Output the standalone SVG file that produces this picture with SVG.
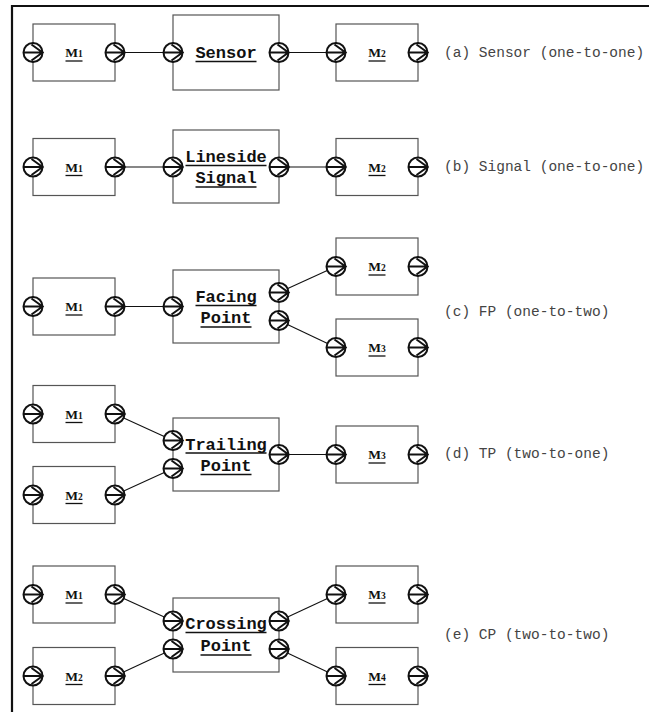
<svg xmlns="http://www.w3.org/2000/svg" xmlns:xlink="http://www.w3.org/1999/xlink" width="649" height="712" viewBox="0 0 649 712">
  <style>
    .box { fill: #fff; stroke: #555; stroke-width: 1.2; }
    .frame { fill: none; stroke: #111; stroke-width: 2.2; }
    .wire { fill: none; stroke: #111; stroke-width: 1.1; }
    .ul { stroke: #111; stroke-width: 1.6; }
    .ulm { stroke: #111; stroke-width: 1.3; }
    .mlab { font-family: "Liberation Serif", "Times New Roman", serif; font-weight: bold; font-size: 13.5px; fill: #111; text-anchor: middle; }
    .mlab .sub { font-size: 9.5px; }
    .blab { font-family: "Liberation Mono", "Courier New", monospace; font-weight: bold; font-size: 17px; fill: #111; text-anchor: middle; }
    .cap { font-family: "Liberation Mono", "Courier New", monospace; font-size: 14.5px; fill: #444; }
  </style>
  <defs>
    <!-- directional port: white disc with an arrow pointing right -->
    <g id="port">
      <circle r="9.5" fill="#fff" stroke="#111" stroke-width="2"/>
      <path d="M-9.5 0H9.5M-1.5 -8L9.5 0L-1.5 8" fill="none" stroke="#111" stroke-width="2" stroke-linejoin="miter"/>
    </g>
  </defs>

  <!-- page frame -->
  <path class="frame" d="M12 712V6H649"/>

  <!-- connectors between ports -->
  <g id="connectors">
    <line class="wire" x1="115" y1="52.5" x2="173" y2="52.5"/>
    <line class="wire" x1="279" y1="52.5" x2="336" y2="52.5"/>

    <line class="wire" x1="115" y1="167" x2="173" y2="167"/>
    <line class="wire" x1="279" y1="167" x2="336" y2="167"/>

    <line class="wire" x1="115" y1="306.5" x2="173" y2="306.5"/>
    <line class="wire" x1="279" y1="292.5" x2="336" y2="266.5"/>
    <line class="wire" x1="279" y1="320.5" x2="336" y2="347.5"/>

    <line class="wire" x1="115" y1="414" x2="173" y2="440.5"/>
    <line class="wire" x1="115" y1="495" x2="173" y2="468.5"/>
    <line class="wire" x1="279" y1="454.5" x2="336" y2="454.5"/>

    <line class="wire" x1="115" y1="594.5" x2="173" y2="621"/>
    <line class="wire" x1="115" y1="676" x2="173" y2="649"/>
    <line class="wire" x1="279" y1="621" x2="336" y2="594.5"/>
    <line class="wire" x1="279" y1="649" x2="336" y2="676"/>
  </g>

  <!-- (a) sensor -->
  <g id="a-m1">
    <rect class="box" x="33" y="24" width="82" height="57"/>
    <text class="mlab" x="74" y="57">M<tspan class="sub">1</tspan></text>
    <line class="ulm" x1="65.5" y1="61" x2="82.5" y2="61"/>
    <use xlink:href="#port" x="33" y="52.5"/>
    <use xlink:href="#port" x="115" y="52.5"/>
  </g>
  <g id="a-sensor">
    <rect class="box" x="173" y="15" width="106" height="75"/>
    <text class="blab" x="226" y="57.5">Sensor</text>
    <line class="ul" x1="195.5" y1="61.5" x2="256.5" y2="61.5"/>
    <use xlink:href="#port" x="173" y="52.5"/>
    <use xlink:href="#port" x="279" y="52.5"/>
  </g>
  <g id="a-m2">
    <rect class="box" x="336" y="24" width="82" height="57"/>
    <text class="mlab" x="377" y="57">M<tspan class="sub">2</tspan></text>
    <line class="ulm" x1="368.5" y1="61" x2="385.5" y2="61"/>
    <use xlink:href="#port" x="336" y="52.5"/>
    <use xlink:href="#port" x="418" y="52.5"/>
  </g>
  <text id="cap-a" class="cap" x="444" y="56.5">(a) Sensor (one-to-one)</text>

  <!-- (b) lineside signal -->
  <g id="b-m1">
    <rect class="box" x="33" y="138.5" width="82" height="57"/>
    <text class="mlab" x="74" y="171.5">M<tspan class="sub">1</tspan></text>
    <line class="ulm" x1="65.5" y1="175.5" x2="82.5" y2="175.5"/>
    <use xlink:href="#port" x="33" y="167"/>
    <use xlink:href="#port" x="115" y="167"/>
  </g>
  <g id="b-signal">
    <rect class="box" x="173" y="130" width="106" height="73"/>
    <text class="blab" x="226" y="161.5">Lineside</text>
    <line class="ul" x1="185.5" y1="165.5" x2="266.5" y2="165.5"/>
    <text class="blab" x="226" y="182.5">Signal</text>
    <line class="ul" x1="195.5" y1="187" x2="256.5" y2="187"/>
    <use xlink:href="#port" x="173" y="167"/>
    <use xlink:href="#port" x="279" y="167"/>
  </g>
  <g id="b-m2">
    <rect class="box" x="336" y="138.5" width="82" height="57"/>
    <text class="mlab" x="377" y="171.5">M<tspan class="sub">2</tspan></text>
    <line class="ulm" x1="368.5" y1="175.5" x2="385.5" y2="175.5"/>
    <use xlink:href="#port" x="336" y="167"/>
    <use xlink:href="#port" x="418" y="167"/>
  </g>
  <text id="cap-b" class="cap" x="444" y="171">(b) Signal (one-to-one)</text>

  <!-- (c) facing point -->
  <g id="c-m1">
    <rect class="box" x="33" y="278" width="82" height="57"/>
    <text class="mlab" x="74" y="311">M<tspan class="sub">1</tspan></text>
    <line class="ulm" x1="65.5" y1="315" x2="82.5" y2="315"/>
    <use xlink:href="#port" x="33" y="306.5"/>
    <use xlink:href="#port" x="115" y="306.5"/>
  </g>
  <g id="c-facing">
    <rect class="box" x="173" y="270" width="106" height="73"/>
    <text class="blab" x="226" y="301.5">Facing</text>
    <line class="ul" x1="195.5" y1="305.5" x2="256.5" y2="305.5"/>
    <text class="blab" x="226" y="322.5">Point</text>
    <line class="ul" x1="200.5" y1="327" x2="251.5" y2="327"/>
    <use xlink:href="#port" x="173" y="306.5"/>
    <use xlink:href="#port" x="279" y="292.5"/>
    <use xlink:href="#port" x="279" y="320.5"/>
  </g>
  <g id="c-m2">
    <rect class="box" x="336" y="238" width="82" height="57"/>
    <text class="mlab" x="377" y="271">M<tspan class="sub">2</tspan></text>
    <line class="ulm" x1="368.5" y1="275" x2="385.5" y2="275"/>
    <use xlink:href="#port" x="336" y="266.5"/>
    <use xlink:href="#port" x="418" y="266.5"/>
  </g>
  <g id="c-m3">
    <rect class="box" x="336" y="319" width="82" height="57"/>
    <text class="mlab" x="377" y="352">M<tspan class="sub">3</tspan></text>
    <line class="ulm" x1="368.5" y1="356" x2="385.5" y2="356"/>
    <use xlink:href="#port" x="336" y="347.5"/>
    <use xlink:href="#port" x="418" y="347.5"/>
  </g>
  <text id="cap-c" class="cap" x="444" y="316">(c) FP (one-to-two)</text>

  <!-- (d) trailing point -->
  <g id="d-m1">
    <rect class="box" x="33" y="385.5" width="82" height="57"/>
    <text class="mlab" x="74" y="418.5">M<tspan class="sub">1</tspan></text>
    <line class="ulm" x1="65.5" y1="422.5" x2="82.5" y2="422.5"/>
    <use xlink:href="#port" x="33" y="414"/>
    <use xlink:href="#port" x="115" y="414"/>
  </g>
  <g id="d-m2">
    <rect class="box" x="33" y="466.5" width="82" height="57"/>
    <text class="mlab" x="74" y="499.5">M<tspan class="sub">2</tspan></text>
    <line class="ulm" x1="65.5" y1="503.5" x2="82.5" y2="503.5"/>
    <use xlink:href="#port" x="33" y="495"/>
    <use xlink:href="#port" x="115" y="495"/>
  </g>
  <g id="d-trailing">
    <rect class="box" x="173" y="418" width="106" height="73"/>
    <text class="blab" x="226" y="449.5">Trailing</text>
    <line class="ul" x1="185.5" y1="453" x2="266.5" y2="453"/>
    <text class="blab" x="226" y="470.5">Point</text>
    <line class="ul" x1="200.5" y1="474.5" x2="251.5" y2="474.5"/>
    <use xlink:href="#port" x="173" y="440.5"/>
    <use xlink:href="#port" x="173" y="468.5"/>
    <use xlink:href="#port" x="279" y="454.5"/>
  </g>
  <g id="d-m3">
    <rect class="box" x="336" y="426" width="82" height="57"/>
    <text class="mlab" x="377" y="459">M<tspan class="sub">3</tspan></text>
    <line class="ulm" x1="368.5" y1="463" x2="385.5" y2="463"/>
    <use xlink:href="#port" x="336" y="454.5"/>
    <use xlink:href="#port" x="418" y="454.5"/>
  </g>
  <text id="cap-d" class="cap" x="444" y="457.5">(d) TP (two-to-one)</text>

  <!-- (e) crossing point -->
  <g id="e-m1">
    <rect class="box" x="33" y="566" width="82" height="57"/>
    <text class="mlab" x="74" y="599">M<tspan class="sub">1</tspan></text>
    <line class="ulm" x1="65.5" y1="603" x2="82.5" y2="603"/>
    <use xlink:href="#port" x="33" y="594.5"/>
    <use xlink:href="#port" x="115" y="594.5"/>
  </g>
  <g id="e-m2">
    <rect class="box" x="33" y="647.5" width="82" height="57"/>
    <text class="mlab" x="74" y="680.5">M<tspan class="sub">2</tspan></text>
    <line class="ulm" x1="65.5" y1="684.5" x2="82.5" y2="684.5"/>
    <use xlink:href="#port" x="33" y="676"/>
    <use xlink:href="#port" x="115" y="676"/>
  </g>
  <g id="e-crossing">
    <rect class="box" x="173" y="598" width="106" height="74"/>
    <text class="blab" x="226" y="629">Crossing</text>
    <line class="ul" x1="185.5" y1="632.5" x2="266.5" y2="632.5"/>
    <text class="blab" x="226" y="650.5">Point</text>
    <line class="ul" x1="200.5" y1="655" x2="251.5" y2="655"/>
    <use xlink:href="#port" x="173" y="621"/>
    <use xlink:href="#port" x="173" y="649"/>
    <use xlink:href="#port" x="279" y="621"/>
    <use xlink:href="#port" x="279" y="649"/>
  </g>
  <g id="e-m3">
    <rect class="box" x="336" y="566" width="82" height="57"/>
    <text class="mlab" x="377" y="599">M<tspan class="sub">3</tspan></text>
    <line class="ulm" x1="368.5" y1="603" x2="385.5" y2="603"/>
    <use xlink:href="#port" x="336" y="594.5"/>
    <use xlink:href="#port" x="418" y="594.5"/>
  </g>
  <g id="e-m4">
    <rect class="box" x="336" y="647.5" width="82" height="57"/>
    <text class="mlab" x="377" y="680.5">M<tspan class="sub">4</tspan></text>
    <line class="ulm" x1="368.5" y1="684.5" x2="385.5" y2="684.5"/>
    <use xlink:href="#port" x="336" y="676"/>
    <use xlink:href="#port" x="418" y="676"/>
  </g>
  <text id="cap-e" class="cap" x="444" y="639">(e) CP (two-to-two)</text>
</svg>
